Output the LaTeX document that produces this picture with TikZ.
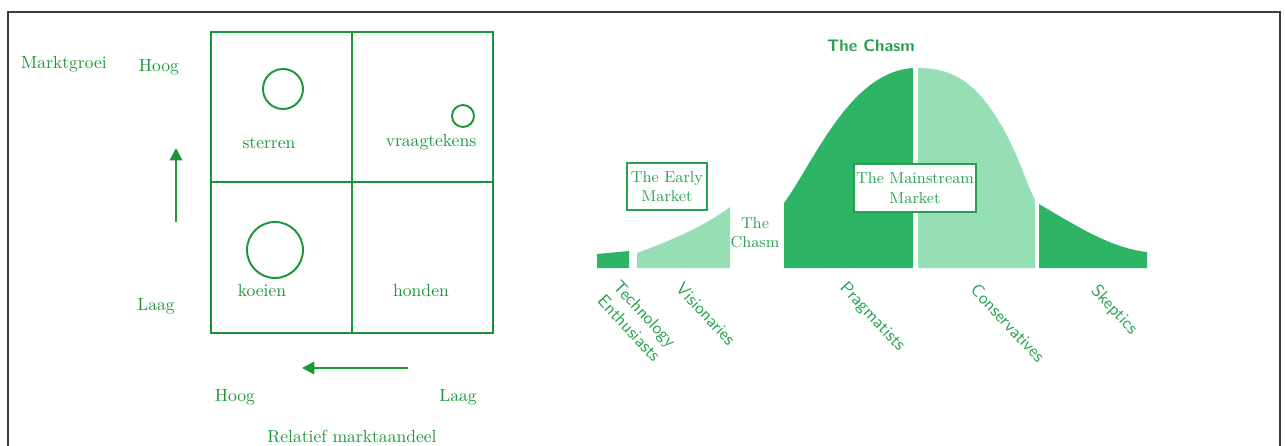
\documentclass[tikz,border=0pt]{standalone}
\usetikzlibrary{arrows.meta}

\definecolor{matgreen}{RGB}{25,150,55}
\definecolor{chasmdark}{RGB}{45,180,100}
\definecolor{chasmlight}{RGB}{150,222,180}
\definecolor{chasmtext}{RGB}{40,160,80}
\definecolor{framegray}{RGB}{60,60,60}

\begin{document}
\begin{tikzpicture}[x=0.02cm, y=-0.02cm, thick]
  \useasboundingbox (0,0) rectangle (1285,446);
  % kader
  \draw[framegray, line width=0.6pt] (8,446) -- (8,12) -- (1280,12) -- (1280,446);

  % BCG-matrix: 2x2 vakken
  \coordinate (TL) at (211,32);
  \coordinate (BR) at (493,333);
  \coordinate (M) at (352,182);
  \draw[matgreen, line width=1.1pt] (TL) rectangle (BR);
  \draw[matgreen, line width=1.1pt] (M |- TL) -- (M |- BR);
  \draw[matgreen, line width=1.1pt] (M -| TL) -- (M -| BR);

  \draw[matgreen, line width=1.1pt] (283,89) circle[radius=20];
  \draw[matgreen, line width=1.1pt] (463,116) circle[radius=11];
  \draw[matgreen, line width=1.1pt] (275,250) circle[radius=28];

  \node[text=matgreen] (sterren) at (269,143) {sterren};
  \node[text=matgreen] (vraag)   at (431,142) {vraagtekens};
  \node[text=matgreen] (koeien)  at (262,290) {koeien};
  \node[text=matgreen] (honden)  at (421,290) {honden};

  \node[text=matgreen] (groei)  at (64,64)   {Marktgroei};
  \node[text=matgreen] (ghoog)  at (159,67)  {Hoog};
  \node[text=matgreen] (glaag)  at (156,306) {Laag};
  \node[text=matgreen] (ahoog)  at (235,397) {Hoog};
  \node[text=matgreen] (alaag)  at (458,397) {Laag};
  \node[text=matgreen] (aandeel) at (352,436) {Relatief marktaandeel};

  \coordinate (up0) at (176,222);
  \coordinate (up1) at (176,148);
  \coordinate (lf0) at (408,368);
  \coordinate (lf1) at (302,368);
  \draw[matgreen, line width=1.3pt, -{Triangle[width=7pt,length=7pt]}] (up0) -- (up1);
  \draw[matgreen, line width=1.3pt, -{Triangle[width=7pt,length=7pt]}] (lf0) -- (lf1);

  % chasm-curve: vijf groepen
  \fill[chasmdark]  (597,268) -- (597,254) -- (629,251) -- (629,268) -- cycle;
  \fill[chasmlight] (637,268) -- (637,253) .. controls (670,241) and (705,226) .. (730,207) -- (730,268) -- cycle;
  \fill[chasmdark]  (784,268) -- (784,203) .. controls (815,160) and (850,72) .. (913,68) -- (913,268) -- cycle;
  \fill[chasmlight] (918,268) -- (918,68) .. controls (955,68) and (975,85) .. (995,115)
                    .. controls (1015,145) and (1025,180) .. (1035,200) -- (1035,268) -- cycle;
  \fill[chasmdark]  (1039,268) -- (1039,204) .. controls (1075,225) and (1110,248) .. (1147,252) -- (1147,268) -- cycle;

  \node[text=chasmtext, font=\sffamily\bfseries\fontsize{9.5}{11}\selectfont] (title) at (871,46) {The Chasm};
  \node[text=chasmtext, font=\small, align=center, inner sep=1pt] (gap) at (755,233) {The\\Chasm};

  \node[draw=chasmtext, line width=0.7pt, text=chasmtext, font=\small, align=center,
        minimum width=1.6cm, minimum height=0.94cm, inner sep=1pt] (early) at (667,186.5) {The Early\\Market};
  \node[draw=chasmtext, fill=white, line width=1.1pt, text=chasmtext, font=\small, align=center,
        minimum width=2.4cm, minimum height=0.96cm, inner sep=1pt] (main) at (915,188) {The Mainstream\\Market};

  \node[text=chasmtext, font=\sffamily, rotate=-47, align=center] (tech) at (637,321) {Technology\\Enthusiasts};
  \node[text=chasmtext, font=\sffamily, rotate=-47] (vis)  at (706,314) {Visionaries};
  \node[text=chasmtext, font=\sffamily, rotate=-47] (prag) at (872,317) {Pragmatists};
  \node[text=chasmtext, font=\sffamily, rotate=-47] (cons) at (1008,323) {Conservatives};
  \node[text=chasmtext, font=\sffamily, rotate=-47] (skep) at (1114,310) {Skeptics};
\end{tikzpicture}
\end{document}
